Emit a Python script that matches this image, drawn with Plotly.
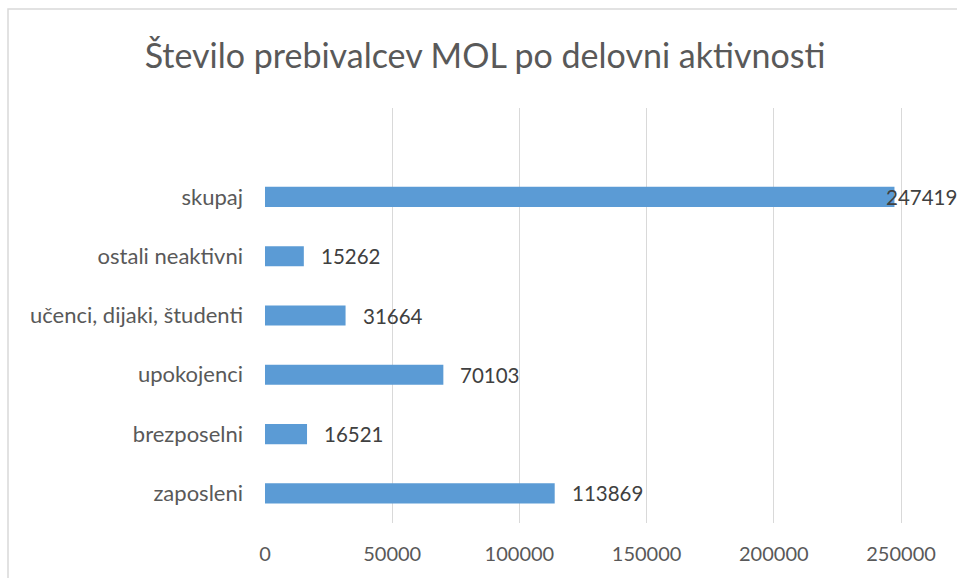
import plotly.graph_objects as go

categories = ["zaposleni", "brezposelni", "upokojenci", "učenci, dijaki, študenti", "ostali neaktivni", "skupaj"]
values = [113869, 16521, 70103, 31664, 15262, 247419]
x_ticks = [0, 50000, 100000, 150000, 200000, 250000]
title = "Število prebivalcev MOL po delovni aktivnosti"

FONT = "Lato, Carlito, Calibri, sans-serif"

fig = go.Figure()
fig.add_trace(go.Bar(
    y=categories, x=values, orientation="h",
    marker=dict(color="#5B9BD5", line=dict(width=0)),
    width=0.34, hoverinfo="x+y",
))

shifts = [15 if v < 200000 else -10 for v in values]
for c, v, s in zip(categories, values, shifts):
    fig.add_annotation(x=v, y=c, text=str(v), showarrow=False, xanchor="left",
                       yanchor="middle", xshift=s,
                       font=dict(family=FONT, size=20.5, color="#404040"))

fig.add_shape(type="rect", xref="paper", yref="paper",
              x0=(8 - 265) / 692, x1=1.2, y0=-0.5, y1=1 + (108 - 9) / 415,
              line=dict(color="#D9D9D9", width=1.5), layer="below")

fig.update_layout(
    width=957, height=578,
    margin=dict(l=265, r=0, t=108, b=55),
    paper_bgcolor="white", plot_bgcolor="white",
    showlegend=False,
    title=dict(text=title, x=485 / 957, xanchor="center", xref="container",
               y=1 - 56 / 578, yanchor="middle", yref="container",
               font=dict(family=FONT, size=34, color="#595959")),
    xaxis=dict(range=[0, 272000], tickvals=x_ticks, ticktext=[str(t) for t in x_ticks],
               showgrid=True, gridcolor="#D9D9D9", gridwidth=1,
               zeroline=False, showline=False, ticks="",
               ticklabelstandoff=17,
               tickfont=dict(family=FONT, size=20, color="#595959")),
    yaxis=dict(type="category", categoryorder="array", categoryarray=categories,
               range=[-0.5, 6.5], showgrid=False, zeroline=False, showline=False,
               ticks="", ticklabelstandoff=21,
               tickfont=dict(family=FONT, size=22, color="#595959")),
)

fig.write_html("out.html", config={"displayModeBar": False},
               post_script="document.body.style.margin='0';document.body.style.overflow='hidden';")
